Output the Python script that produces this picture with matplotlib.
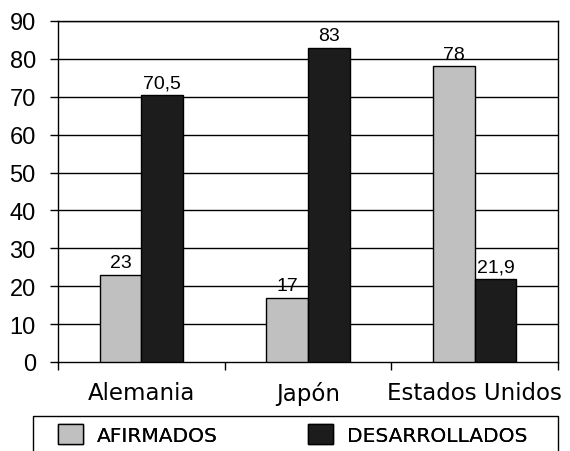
import numpy as np
import matplotlib
matplotlib.use("Agg")
import matplotlib.pyplot as plt
from matplotlib.patches import Rectangle

# values per country
paises = ["Alemania", "Japón", "Estados Unidos"]
afirmados = [23, 17, 78]
desarrollados = [70.5, 83, 21.9]
series = ["AFIRMADOS", "DESARROLLADOS"]
y_ticks = [0, 10, 20, 30, 40, 50, 60, 70, 80, 90]

GRIS = "#c0c0c0"
NEGRO = "#1c1c1c"
W = 0.25

fig = plt.figure(figsize=(5.70, 4.52), dpi=100)
ax = fig.add_axes([58 / 570, 1 - 363 / 452, 500 / 570, 341 / 452])

x = np.arange(len(paises))
b1 = ax.bar(x - W / 2, afirmados, W, color=GRIS, edgecolor="black",
            linewidth=1, zorder=3, label=series[0])
b2 = ax.bar(x + W / 2, desarrollados, W, color=NEGRO, edgecolor="black",
            linewidth=1, zorder=3, label=series[1])

def fmt(v):
    return f"{v:g}".replace(".", ",")

for bars, vals in [(b1, afirmados), (b2, desarrollados)]:
    for r, v in zip(bars, vals):
        ax.annotate(fmt(v), (r.get_x() + r.get_width() / 2, v),
                    xytext=(0, 5.5), textcoords="offset points",
                    ha="center", va="baseline", fontsize=14,
                    family="Liberation Sans", zorder=5)

ax.set_xlim(-0.5, 2.5)
ax.set_ylim(0, 90)
ax.set_yticks(y_ticks)
for yv in y_ticks[1:]:
    ax.axhline(yv, color="black", linewidth=1, zorder=1)

ax.set_xticks([-0.5, 0.5, 1.5, 2.5])
ax.set_xticklabels([])
ax.set_xticks(x, minor=True)
ax.set_xticklabels(paises, minor=True, fontsize=16.5)
ax.tick_params(axis="x", which="major", direction="out", length=6, width=1)
ax.tick_params(axis="x", which="minor", length=0, pad=14)
ax.tick_params(axis="y", direction="out", length=6, width=1, pad=10,
               labelsize=17)
for lab in ax.get_yticklabels():
    lab.set_family("Liberation Sans")

for s in ax.spines.values():
    s.set_linewidth(1)
    s.set_color("black")

# legend box running off the bottom edge, one entry per column
fig.add_artist(Rectangle((33 / 570, -0.05), 525 / 570, 0.05 + 1 - 417 / 452,
                         transform=fig.transFigure, facecolor="white",
                         edgecolor="black", linewidth=1))
for bar, name, xpx in [(b1, series[0], 58), (b2, series[1], 308)]:
    leg = fig.legend(handles=[bar], labels=[name], loc="center left",
                     bbox_to_anchor=(xpx / 570, 1 - 435.5 / 452),
                     fontsize=14.5, frameon=False, handlelength=1.24,
                     handleheight=1.15, handletextpad=0.7,
                     borderpad=0, borderaxespad=0)
    fig.add_artist(leg)

fig.savefig("out.png", dpi=100)
